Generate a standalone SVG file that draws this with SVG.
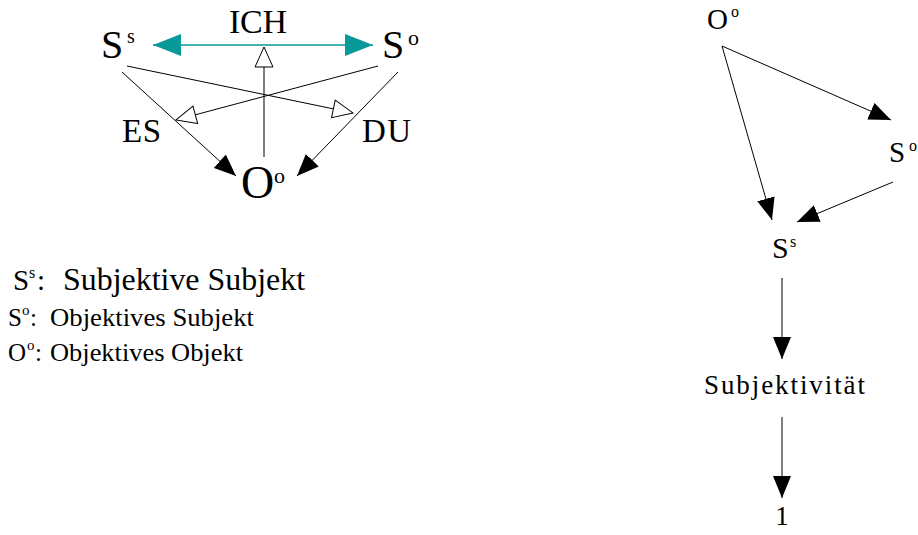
<svg xmlns="http://www.w3.org/2000/svg" width="918" height="535" viewBox="0 0 918 535">
<style>
.ln{stroke:#000;stroke-width:1;fill:none}
.teal{stroke:#079a98;stroke-width:1.6;fill:none}
</style>
<defs>
<marker id="fa" viewBox="0 0 22 18" refX="22" refY="9" markerWidth="22" markerHeight="18" markerUnits="userSpaceOnUse" orient="auto"><path d="M0,0 L22,9 L0,18 z" fill="#000"/></marker>
<marker id="oa" viewBox="-1 -1 22 20" refX="0" refY="9" markerWidth="22" markerHeight="20" markerUnits="userSpaceOnUse" orient="auto"><path d="M0,0 L20,9 L0,18 z" fill="#fff" stroke="#000" stroke-width="1"/></marker>
<marker id="ta" viewBox="0 0 28 22" refX="28" refY="11" markerWidth="28" markerHeight="22" markerUnits="userSpaceOnUse" orient="auto-start-reverse"><path d="M0,0 L28,11 L0,22 z" fill="#079a98"/></marker>
</defs>
<g id="connectors">
<line class="teal" x1="153" y1="45" x2="373" y2="45" marker-start="url(#ta)" marker-end="url(#ta)"/>
<line class="ln" x1="264" y1="157" x2="264" y2="67" marker-end="url(#oa)"/>
<line class="ln" x1="127" y1="66" x2="333.4" y2="108.9" marker-end="url(#oa)"/>
<line class="ln" x1="378" y1="66" x2="195.3" y2="114.8" marker-end="url(#oa)"/>
<line class="ln" x1="122" y1="72" x2="236" y2="176" marker-end="url(#fa)"/>
<line class="ln" x1="398" y1="72" x2="297" y2="176" marker-end="url(#fa)"/>
<line class="ln" x1="722" y1="46" x2="891" y2="120" marker-end="url(#fa)"/>
<line class="ln" x1="722" y1="46" x2="772" y2="220" marker-end="url(#fa)"/>
<line class="ln" x1="893" y1="182" x2="797" y2="222" marker-end="url(#fa)"/>
<line class="ln" x1="782" y1="278" x2="782" y2="359" marker-end="url(#fa)"/>
<line class="ln" x1="782" y1="417" x2="782" y2="498" marker-end="url(#fa)"/>
</g>
<g id="node-Ss-left"><text font-family="'Liberation Serif', serif" x="101" y="58" font-size="40">S</text><text font-family="'Liberation Serif', serif" x="127" y="43" font-size="20">s</text></g>
<g id="node-So-left"><text font-family="'Liberation Serif', serif" x="382" y="58" font-size="40">S</text><text font-family="'Liberation Serif', serif" x="408" y="45" font-size="22">o</text></g>
<g id="node-Oo-left"><text font-family="'Liberation Serif', serif" x="241" y="198" font-size="46">O</text><text font-family="'Liberation Serif', serif" x="274" y="183" font-size="22">o</text></g>
<g id="node-ICH"><text font-family="'Liberation Serif', serif" x="229" y="33" font-size="34" textLength="58" lengthAdjust="spacing">ICH</text></g>
<g id="node-ES"><text font-family="'Liberation Serif', serif" x="122" y="142" font-size="33" textLength="39" lengthAdjust="spacing">ES</text></g>
<g id="node-DU"><text font-family="'Liberation Serif', serif" x="362" y="142" font-size="33" textLength="49" lengthAdjust="spacing">DU</text></g>
<g id="legend">
<text font-family="'Liberation Serif', serif" x="13" y="290" font-size="29">S</text><text font-family="'Liberation Serif', serif" x="29" y="278" font-size="16">s</text><text font-family="'Liberation Serif', serif" x="37" y="290" font-size="29">:</text>
<text font-family="'Liberation Serif', serif" x="63" y="290" font-size="31" textLength="242" lengthAdjust="spacingAndGlyphs">Subjektive Subjekt</text>
<text font-family="'Liberation Serif', serif" x="8" y="326" font-size="25">S</text><text font-family="'Liberation Serif', serif" x="22" y="315" font-size="15">o</text><text font-family="'Liberation Serif', serif" x="30" y="326" font-size="25">:</text>
<text font-family="'Liberation Serif', serif" x="50" y="326" font-size="25" textLength="204" lengthAdjust="spacingAndGlyphs">Objektives Subjekt</text>
<text font-family="'Liberation Serif', serif" x="8" y="361" font-size="25">O</text><text font-family="'Liberation Serif', serif" x="27" y="350" font-size="15">o</text><text font-family="'Liberation Serif', serif" x="35" y="361" font-size="25">:</text>
<text font-family="'Liberation Serif', serif" x="50" y="361" font-size="25" textLength="193" lengthAdjust="spacingAndGlyphs">Objektives Objekt</text>
</g>
<g id="node-Oo-right"><text font-family="'Liberation Serif', serif" x="707" y="29" font-size="29">O</text><text font-family="'Liberation Serif', serif" x="731" y="17" font-size="16">o</text></g>
<g id="node-So-right"><text font-family="'Liberation Serif', serif" x="889" y="162" font-size="29">S</text><text font-family="'Liberation Serif', serif" x="909" y="151" font-size="16">o</text></g>
<g id="node-Ss-right"><text font-family="'Liberation Serif', serif" x="772" y="258" font-size="30">S</text><text font-family="'Liberation Serif', serif" x="790" y="247" font-size="16">s</text></g>
<g id="node-Subjektivitaet"><text font-family="'Liberation Serif', serif" x="704" y="394" font-size="27" textLength="161" lengthAdjust="spacing">Subjektivität</text></g>
<g id="node-1"><text font-family="'Liberation Serif', serif" x="782" y="525" font-size="27" text-anchor="middle">1</text></g>
</svg>
